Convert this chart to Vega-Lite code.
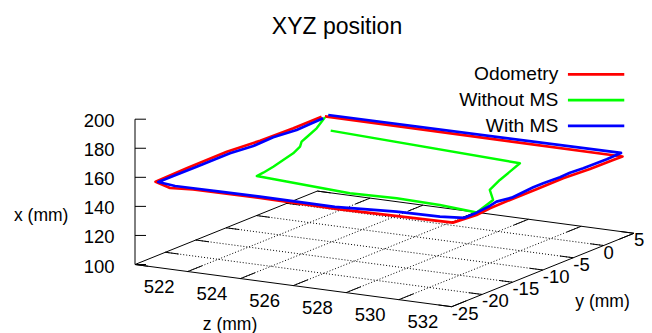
{
"$schema": "https://vega.github.io/schema/vega-lite/v6.json",
"width": 652, "height": 333, "padding": 0, "autosize": {"type": "none"},
"background": "white",
"config": {"view": {"stroke": null}, "text": {"font": "Liberation Sans", "color": "#000"}},
"title": {"text": "XYZ position", "font": "Liberation Sans", "fontSize": 23, "fontWeight": "normal", "color": "#000", "anchor": "middle", "frame": "group", "offset": -57, "baseline": "alphabetic", "dx": 11},
"datasets": {
"edges": [
{"z1": 520, "y1": -25, "x1": 100, "z2": 532, "y2": -25, "x2": 100},
{"z1": 532, "y1": -25, "x1": 100, "z2": 532, "y2": 5, "x2": 100},
{"z1": 532, "y1": 5, "x1": 100, "z2": 520, "y2": 5, "x2": 100},
{"z1": 520, "y1": 5, "x1": 100, "z2": 520, "y2": -25, "x2": 100},
{"z1": 520, "y1": -25, "x1": 100, "z2": 520, "y2": -25, "x2": 200}
],
"zt": [{"v": 522}, {"v": 524}, {"v": 526}, {"v": 528}, {"v": 530}, {"v": 532}],
"yt": [{"v": -25, "t": "-25"}, {"v": -20, "t": "-20"}, {"v": -15, "t": "-15"}, {"v": -10, "t": "-10"}, {"v": -5, "t": "-5"}, {"v": 0, "t": "\u00a00"}, {"v": 5, "t": "\u00a05"}],
"xt": [{"v": 100}, {"v": 120}, {"v": 140}, {"v": 160}, {"v": 180}, {"v": 200}],
"titles": [
{"t": "x (mm)", "z": 520, "y": -25, "x": 150},
{"t": "z (mm)", "z": 526, "y": -25, "x": 100},
{"t": "y (mm)", "z": 532, "y": -10, "x": 100}
],
"traj": [
{"s": "Odometry", "i": 0, "z": 520.51, "y": 3.49, "x": 155},
{"s": "Odometry", "i": 1, "z": 520.53, "y": -1.24, "x": 155},
{"s": "Odometry", "i": 2, "z": 520.46, "y": -6.41, "x": 155},
{"s": "Odometry", "i": 3, "z": 520.29, "y": -11.15, "x": 155},
{"s": "Odometry", "i": 4, "z": 520.32, "y": -17.88, "x": 155},
{"s": "Odometry", "i": 5, "z": 520.38, "y": -23.27, "x": 155},
{"s": "Odometry", "i": 6, "z": 521.24, "y": -24.61, "x": 155},
{"s": "Odometry", "i": 7, "z": 522.0, "y": -24.13, "x": 155},
{"s": "Odometry", "i": 8, "z": 524.5, "y": -24.0, "x": 155},
{"s": "Odometry", "i": 9, "z": 527.59, "y": -24.25, "x": 155},
{"s": "Odometry", "i": 10, "z": 531.74, "y": -23.68, "x": 155},
{"s": "Odometry", "i": 11, "z": 531.87, "y": -20.35, "x": 155},
{"s": "Odometry", "i": 12, "z": 531.78, "y": -17.74, "x": 155},
{"s": "Odometry", "i": 13, "z": 531.76, "y": -14.38, "x": 155},
{"s": "Odometry", "i": 14, "z": 531.76, "y": -10.0, "x": 155},
{"s": "Odometry", "i": 15, "z": 531.74, "y": -5.53, "x": 155},
{"s": "Odometry", "i": 16, "z": 531.85, "y": -1.59, "x": 155},
{"s": "Odometry", "i": 17, "z": 531.87, "y": 2.13, "x": 155},
{"s": "Odometry", "i": 18, "z": 531.89, "y": 3.58, "x": 155},
{"s": "Odometry", "i": 19, "z": 520.59, "y": 3.69, "x": 155},
{"s": "Without MS", "i": 0, "z": 520.65, "y": 3.44, "x": 155},
{"s": "Without MS", "i": 1, "z": 521.19, "y": -0.28, "x": 155},
{"s": "Without MS", "i": 2, "z": 521.54, "y": -3.45, "x": 155},
{"s": "Without MS", "i": 3, "z": 521.71, "y": -5.01, "x": 155},
{"s": "Without MS", "i": 4, "z": 522.02, "y": -6.61, "x": 155},
{"s": "Without MS", "i": 5, "z": 522.29, "y": -8.91, "x": 155},
{"s": "Without MS", "i": 6, "z": 522.48, "y": -11.38, "x": 155},
{"s": "Without MS", "i": 7, "z": 522.67, "y": -13.84, "x": 155},
{"s": "Without MS", "i": 8, "z": 522.81, "y": -16.1, "x": 155},
{"s": "Without MS", "i": 9, "z": 522.86, "y": -17.38, "x": 155},
{"s": "Without MS", "i": 10, "z": 526.73, "y": -18.87, "x": 155},
{"s": "Without MS", "i": 11, "z": 528.42, "y": -18.49, "x": 155},
{"s": "Without MS", "i": 12, "z": 530.12, "y": -18.78, "x": 155},
{"s": "Without MS", "i": 13, "z": 531.7, "y": -19.58, "x": 155},
{"s": "Without MS", "i": 14, "z": 531.28, "y": -15.06, "x": 155},
{"s": "Without MS", "i": 15, "z": 530.48, "y": -12.13, "x": 155},
{"s": "Without MS", "i": 16, "z": 530.06, "y": -8.65, "x": 155},
{"s": "Without MS", "i": 17, "z": 529.76, "y": -5.69, "x": 155},
{"s": "Without MS", "i": 18, "z": 529.45, "y": -2.7, "x": 155},
{"s": "Without MS", "i": 19, "z": 521.76, "y": -0.44, "x": 155},
{"s": "With MS", "i": 0, "z": 520.67, "y": 3.06, "x": 155},
{"s": "With MS", "i": 1, "z": 520.7, "y": 0.77, "x": 155},
{"s": "With MS", "i": 2, "z": 520.74, "y": -1.62, "x": 155},
{"s": "With MS", "i": 3, "z": 520.59, "y": -4.82, "x": 155},
{"s": "With MS", "i": 4, "z": 520.64, "y": -8.31, "x": 155},
{"s": "With MS", "i": 5, "z": 520.49, "y": -11.5, "x": 155},
{"s": "With MS", "i": 6, "z": 520.49, "y": -16.98, "x": 155},
{"s": "With MS", "i": 7, "z": 520.48, "y": -20.79, "x": 155},
{"s": "With MS", "i": 8, "z": 520.48, "y": -23.25, "x": 155},
{"s": "With MS", "i": 9, "z": 521.24, "y": -23.79, "x": 155},
{"s": "With MS", "i": 10, "z": 521.92, "y": -23.75, "x": 155},
{"s": "With MS", "i": 11, "z": 522.92, "y": -23.7, "x": 155},
{"s": "With MS", "i": 12, "z": 524.41, "y": -23.6, "x": 155},
{"s": "With MS", "i": 13, "z": 527.27, "y": -23.69, "x": 155},
{"s": "With MS", "i": 14, "z": 529.36, "y": -22.61, "x": 155},
{"s": "With MS", "i": 15, "z": 530.95, "y": -22.37, "x": 155},
{"s": "With MS", "i": 16, "z": 531.72, "y": -21.79, "x": 155},
{"s": "With MS", "i": 17, "z": 531.71, "y": -19.64, "x": 155},
{"s": "With MS", "i": 18, "z": 531.61, "y": -17.04, "x": 155},
{"s": "With MS", "i": 19, "z": 531.5, "y": -15.44, "x": 155},
{"s": "With MS", "i": 20, "z": 531.65, "y": -13.6, "x": 155},
{"s": "With MS", "i": 21, "z": 531.53, "y": -9.53, "x": 155},
{"s": "With MS", "i": 22, "z": 531.53, "y": -7.89, "x": 155},
{"s": "With MS", "i": 23, "z": 531.58, "y": -5.36, "x": 155},
{"s": "With MS", "i": 24, "z": 531.54, "y": -3.54, "x": 155},
{"s": "With MS", "i": 25, "z": 531.61, "y": -1.65, "x": 155},
{"s": "With MS", "i": 26, "z": 531.64, "y": 2.08, "x": 155},
{"s": "With MS", "i": 27, "z": 531.6, "y": 4.6, "x": 155},
{"s": "With MS", "i": 28, "z": 520.58, "y": 4.28, "x": 155}
]
},
"layer": [
{
"data": {"name": "zt"},
"transform": [
{"filter": "datum.v < 532"},
{"calculate": "135 + (datum.v-520)*26.39", "as": "ax"},
{"calculate": "264.5 + (datum.v-520)*3.517", "as": "ay"},
{"calculate": "135 + (datum.v-520)*26.39 + 30*6.077", "as": "bx"},
{"calculate": "264.5 + (datum.v-520)*3.517 - 30*2.447", "as": "by"}
],
"mark": {"type": "rule", "stroke": "#000", "strokeWidth": 1, "strokeDash": [1, 2]},
"encoding": {
"x": {"field": "ax", "type": "quantitative", "scale": {"domain": [0, 652], "nice": false, "zero": false}, "axis": null},
"y": {"field": "ay", "type": "quantitative", "scale": {"domain": [333, 0], "nice": false, "zero": false}, "axis": null},
"x2": {"field": "bx"}, "y2": {"field": "by"}
}
},
{
"data": {"name": "yt"},
"transform": [
{"filter": "datum.v > -25 && datum.v < 5"},
{"calculate": "135 + (datum.v+25)*6.077", "as": "ax"},
{"calculate": "264.5 - (datum.v+25)*2.447", "as": "ay"},
{"calculate": "135 + 12*26.39 + (datum.v+25)*6.077", "as": "bx"},
{"calculate": "264.5 + 12*3.517 - (datum.v+25)*2.447", "as": "by"}
],
"mark": {"type": "rule", "stroke": "#000", "strokeWidth": 1, "strokeDash": [1, 2]},
"encoding": {
"x": {"field": "ax", "type": "quantitative", "scale": {"domain": [0, 652], "nice": false, "zero": false}, "axis": null},
"y": {"field": "ay", "type": "quantitative", "scale": {"domain": [333, 0], "nice": false, "zero": false}, "axis": null},
"x2": {"field": "bx"}, "y2": {"field": "by"}
}
},
{
"data": {"name": "edges"},
"transform": [
{"calculate": "135 + (datum.z1-520)*26.39 + (datum.y1+25)*6.077", "as": "ax"},
{"calculate": "264.5 + (datum.z1-520)*3.517 - (datum.y1+25)*2.447 - (datum.x1-100)*1.453", "as": "ay"},
{"calculate": "135 + (datum.z2-520)*26.39 + (datum.y2+25)*6.077", "as": "bx"},
{"calculate": "264.5 + (datum.z2-520)*3.517 - (datum.y2+25)*2.447 - (datum.x2-100)*1.453", "as": "by"}
],
"mark": {"type": "rule", "stroke": "#000", "strokeWidth": 1},
"encoding": {
"x": {"field": "ax", "type": "quantitative", "scale": {"domain": [0, 652], "nice": false, "zero": false}, "axis": null},
"y": {"field": "ay", "type": "quantitative", "scale": {"domain": [333, 0], "nice": false, "zero": false}, "axis": null},
"x2": {"field": "bx"}, "y2": {"field": "by"}
}
},
{
"data": {"name": "zt"},
"transform": [
{"calculate": "135 + (datum.v-520)*26.39", "as": "ax"},
{"calculate": "264.5 + (datum.v-520)*3.517", "as": "ay"},
{"calculate": "135 + (datum.v-520)*26.39 + 2.4*6.077", "as": "bx"},
{"calculate": "264.5 + (datum.v-520)*3.517 - 2.4*2.447", "as": "by"}
],
"mark": {"type": "rule", "stroke": "#000", "strokeWidth": 1},
"encoding": {
"x": {"field": "ax", "type": "quantitative", "scale": {"domain": [0, 652], "nice": false, "zero": false}, "axis": null},
"y": {"field": "ay", "type": "quantitative", "scale": {"domain": [333, 0], "nice": false, "zero": false}, "axis": null},
"x2": {"field": "bx"}, "y2": {"field": "by"}
}
},
{
"data": {"name": "zt"},
"transform": [
{"calculate": "135 + (datum.v-520)*26.39 + 30*6.077", "as": "ax"},
{"calculate": "264.5 + (datum.v-520)*3.517 - 30*2.447", "as": "ay"},
{"calculate": "135 + (datum.v-520)*26.39 + 27.6*6.077", "as": "bx"},
{"calculate": "264.5 + (datum.v-520)*3.517 - 27.6*2.447", "as": "by"}
],
"mark": {"type": "rule", "stroke": "#000", "strokeWidth": 1},
"encoding": {
"x": {"field": "ax", "type": "quantitative", "scale": {"domain": [0, 652], "nice": false, "zero": false}, "axis": null},
"y": {"field": "ay", "type": "quantitative", "scale": {"domain": [333, 0], "nice": false, "zero": false}, "axis": null},
"x2": {"field": "bx"}, "y2": {"field": "by"}
}
},
{
"data": {"name": "yt"},
"transform": [
{"calculate": "135 + 12*26.39 + (datum.v+25)*6.077", "as": "ax"},
{"calculate": "264.5 + 12*3.517 - (datum.v+25)*2.447", "as": "ay"},
{"calculate": "135 + 11.5*26.39 + (datum.v+25)*6.077", "as": "bx"},
{"calculate": "264.5 + 11.5*3.517 - (datum.v+25)*2.447", "as": "by"}
],
"mark": {"type": "rule", "stroke": "#000", "strokeWidth": 1},
"encoding": {
"x": {"field": "ax", "type": "quantitative", "scale": {"domain": [0, 652], "nice": false, "zero": false}, "axis": null},
"y": {"field": "ay", "type": "quantitative", "scale": {"domain": [333, 0], "nice": false, "zero": false}, "axis": null},
"x2": {"field": "bx"}, "y2": {"field": "by"}
}
},
{
"data": {"name": "yt"},
"transform": [
{"calculate": "135 + (datum.v+25)*6.077", "as": "ax"},
{"calculate": "264.5 - (datum.v+25)*2.447", "as": "ay"},
{"calculate": "135 + 0.5*26.39 + (datum.v+25)*6.077", "as": "bx"},
{"calculate": "264.5 + 0.5*3.517 - (datum.v+25)*2.447", "as": "by"}
],
"mark": {"type": "rule", "stroke": "#000", "strokeWidth": 1},
"encoding": {
"x": {"field": "ax", "type": "quantitative", "scale": {"domain": [0, 652], "nice": false, "zero": false}, "axis": null},
"y": {"field": "ay", "type": "quantitative", "scale": {"domain": [333, 0], "nice": false, "zero": false}, "axis": null},
"x2": {"field": "bx"}, "y2": {"field": "by"}
}
},
{
"data": {"name": "xt"},
"transform": [
{"calculate": "135", "as": "ax"},
{"calculate": "264.5 - (datum.v-100)*1.453", "as": "ay"}
],
"mark": {"type": "rule", "stroke": "#000", "strokeWidth": 1, "x2Offset": 11},
"encoding": {
"x": {"field": "ax", "type": "quantitative", "scale": {"domain": [0, 652], "nice": false, "zero": false}, "axis": null},
"y": {"field": "ay", "type": "quantitative", "scale": {"domain": [333, 0], "nice": false, "zero": false}, "axis": null},
"x2": {"field": "ax"}, "y2": {"field": "ay"}
}
},
{
"data": {"name": "xt"},
"transform": [
{"calculate": "135", "as": "ax"},
{"calculate": "264.5 - (datum.v-100)*1.453", "as": "ay"}
],
"mark": {"type": "text", "align": "right", "baseline": "middle", "dx": -20.5, "dy": 2, "fontSize": 18.5},
"encoding": {
"x": {"field": "ax", "type": "quantitative", "scale": {"domain": [0, 652], "nice": false, "zero": false}, "axis": null},
"y": {"field": "ay", "type": "quantitative", "scale": {"domain": [333, 0], "nice": false, "zero": false}, "axis": null},
"text": {"field": "v", "type": "quantitative"}
}
},
{
"data": {"name": "zt"},
"transform": [
{"calculate": "135 + (datum.v-520)*26.39", "as": "ax"},
{"calculate": "264.5 + (datum.v-520)*3.517", "as": "ay"}
],
"mark": {"type": "text", "align": "center", "baseline": "middle", "dx": -28.7, "dy": 15, "fontSize": 18.5},
"encoding": {
"x": {"field": "ax", "type": "quantitative", "scale": {"domain": [0, 652], "nice": false, "zero": false}, "axis": null},
"y": {"field": "ay", "type": "quantitative", "scale": {"domain": [333, 0], "nice": false, "zero": false}, "axis": null},
"text": {"field": "v", "type": "quantitative"}
}
},
{
"data": {"name": "yt"},
"transform": [
{"calculate": "135 + 12*26.39 + (datum.v+25)*6.077", "as": "ax"},
{"calculate": "264.5 + 12*3.517 - (datum.v+25)*2.447", "as": "ay"}
],
"mark": {"type": "text", "align": "left", "baseline": "middle", "dx": 0, "dy": 7, "fontSize": 18.5},
"encoding": {
"x": {"field": "ax", "type": "quantitative", "scale": {"domain": [0, 652], "nice": false, "zero": false}, "axis": null},
"y": {"field": "ay", "type": "quantitative", "scale": {"domain": [333, 0], "nice": false, "zero": false}, "axis": null},
"text": {"field": "t", "type": "nominal"}
}
},
{
"data": {"name": "titles"},
"transform": [
{"filter": "datum.t == 'x (mm)'"},
{"calculate": "135 + (datum.z-520)*26.39 + (datum.y+25)*6.077", "as": "ax"},
{"calculate": "264.5 + (datum.z-520)*3.517 - (datum.y+25)*2.447 - (datum.x-100)*1.453", "as": "ay"}
],
"mark": {"type": "text", "align": "center", "baseline": "alphabetic", "dx": -93.8, "dy": 28.7, "fontSize": 17.5},
"encoding": {
"x": {"field": "ax", "type": "quantitative", "scale": {"domain": [0, 652], "nice": false, "zero": false}, "axis": null},
"y": {"field": "ay", "type": "quantitative", "scale": {"domain": [333, 0], "nice": false, "zero": false}, "axis": null},
"text": {"field": "t", "type": "nominal"}
}
},
{
"data": {"name": "titles"},
"transform": [
{"filter": "datum.t == 'z (mm)'"},
{"calculate": "135 + (datum.z-520)*26.39 + (datum.y+25)*6.077", "as": "ax"},
{"calculate": "264.5 + (datum.z-520)*3.517 - (datum.y+25)*2.447 - (datum.x-100)*1.453", "as": "ay"}
],
"mark": {"type": "text", "align": "center", "baseline": "alphabetic", "dx": -63.3, "dy": 43.9, "fontSize": 17.5},
"encoding": {
"x": {"field": "ax", "type": "quantitative", "scale": {"domain": [0, 652], "nice": false, "zero": false}, "axis": null},
"y": {"field": "ay", "type": "quantitative", "scale": {"domain": [333, 0], "nice": false, "zero": false}, "axis": null},
"text": {"field": "t", "type": "nominal"}
}
},
{
"data": {"name": "titles"},
"transform": [
{"filter": "datum.t == 'y (mm)'"},
{"calculate": "135 + (datum.z-520)*26.39 + (datum.y+25)*6.077", "as": "ax"},
{"calculate": "264.5 + (datum.z-520)*3.517 - (datum.y+25)*2.447 - (datum.x-100)*1.453", "as": "ay"}
],
"mark": {"type": "text", "align": "center", "baseline": "alphabetic", "dx": 59.7, "dy": 37.5, "fontSize": 17.5},
"encoding": {
"x": {"field": "ax", "type": "quantitative", "scale": {"domain": [0, 652], "nice": false, "zero": false}, "axis": null},
"y": {"field": "ay", "type": "quantitative", "scale": {"domain": [333, 0], "nice": false, "zero": false}, "axis": null},
"text": {"field": "t", "type": "nominal"}
}
},
{
"data": {"name": "traj"},
"transform": [
{"filter": "datum.s == 'Odometry'"},
{"calculate": "135 + (datum.z-520)*26.39 + (datum.y+25)*6.077", "as": "ax"},
{"calculate": "264.5 + (datum.z-520)*3.517 - (datum.y+25)*2.447 - (datum.x-100)*1.453", "as": "ay"}
],
"mark": {"type": "line", "strokeWidth": 2.7, "strokeJoin": "round"},
"encoding": {
"x": {"field": "ax", "type": "quantitative", "scale": {"domain": [0, 652], "nice": false, "zero": false}, "axis": null},
"y": {"field": "ay", "type": "quantitative", "scale": {"domain": [333, 0], "nice": false, "zero": false}, "axis": null},
"order": {"field": "i", "type": "quantitative"},
"color": {"field": "s", "type": "nominal", "scale": {"domain": ["Odometry", "Without MS", "With MS"], "range": ["#ff0000", "#00ff00", "#0000ff"]},
"legend": {"orient": "none", "legendX": 586.5, "legendY": 64.75, "title": null, "symbolType": "M-5,0H5", "symbolSize": 127, "symbolStrokeWidth": 2.7, "labelFont": "Liberation Sans", "labelFontSize": 19.2, "labelColor": "#000", "labelAlign": "right", "labelOffset": -47.4, "rowPadding": 5.8, "labelLimit": 300, "padding": 0}}
}
},
{
"data": {"name": "traj"},
"transform": [
{"filter": "datum.s == 'Without MS'"},
{"calculate": "135 + (datum.z-520)*26.39 + (datum.y+25)*6.077", "as": "ax"},
{"calculate": "264.5 + (datum.z-520)*3.517 - (datum.y+25)*2.447 - (datum.x-100)*1.453", "as": "ay"}
],
"mark": {"type": "line", "strokeWidth": 2.4, "strokeJoin": "round"},
"encoding": {
"x": {"field": "ax", "type": "quantitative", "scale": {"domain": [0, 652], "nice": false, "zero": false}, "axis": null},
"y": {"field": "ay", "type": "quantitative", "scale": {"domain": [333, 0], "nice": false, "zero": false}, "axis": null},
"order": {"field": "i", "type": "quantitative"},
"color": {"field": "s", "type": "nominal"}
}
},
{
"data": {"name": "traj"},
"transform": [
{"filter": "datum.s == 'With MS'"},
{"calculate": "135 + (datum.z-520)*26.39 + (datum.y+25)*6.077", "as": "ax"},
{"calculate": "264.5 + (datum.z-520)*3.517 - (datum.y+25)*2.447 - (datum.x-100)*1.453", "as": "ay"}
],
"mark": {"type": "line", "strokeWidth": 2.7, "strokeJoin": "round"},
"encoding": {
"x": {"field": "ax", "type": "quantitative", "scale": {"domain": [0, 652], "nice": false, "zero": false}, "axis": null},
"y": {"field": "ay", "type": "quantitative", "scale": {"domain": [333, 0], "nice": false, "zero": false}, "axis": null},
"order": {"field": "i", "type": "quantitative"},
"color": {"field": "s", "type": "nominal"}
}
}
]
}
